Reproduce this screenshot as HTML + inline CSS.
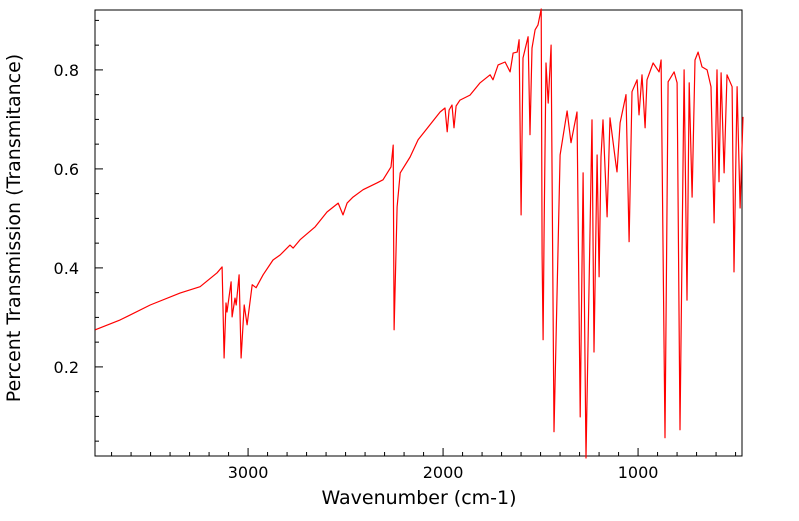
<!DOCTYPE html>
<html><head><meta charset="utf-8"><style>
body{margin:0;background:#fff;}
svg text{font-family:"DejaVu Sans","Liberation Sans",sans-serif;fill:#000;}
</style></head><body>
<svg id="chart" width="799" height="516">
<rect x="95" y="10" width="647" height="446" fill="#fff" stroke="#000" stroke-width="1"/>
<g id="ticks"></g>
<polyline id="spectrum" fill="none" stroke="#ff0000" stroke-width="1.2" stroke-linejoin="round"/>
<text x="419" y="504" font-size="19" text-anchor="middle">Wavenumber (cm-1)</text>
<text transform="translate(20,228) rotate(-90)" font-size="19" text-anchor="middle">Percent Transmission (Transmitance)</text>
</svg>
<script>
const wavenumbers=[3784,3656,3502,3349,3246,3159,3133,3123,3113,3108,3087,3082,3067,3061,3046,3036,3020,3005,2979,2959,2923,2872,2836,2785,2769,2733,2656,2595,2538,2513,2492,2462,2410,2338,2308,2267,2256,2251,2236,2220,2169,2128,2067,2015,1990,1979,1969,1954,1944,1933,1913,1862,1810,1759,1744,1718,1682,1656,1641,1620,1610,1600,1590,1564,1554,1544,1528,1513,1497,1492,1487,1482,1472,1461,1446,1431,1400,1364,1344,1328,1313,1297,1282,1267,1236,1226,1210,1200,1190,1180,1159,1144,1113,1108,1092,1062,1046,1031,1005,995,980,964,954,923,892,882,862,846,815,800,785,764,749,738,723,708,692,672,646,626,610,595,585,574,559,544,518,508,492,477,462];
const transmission=[0.275,0.295,0.325,0.349,0.362,0.390,0.402,0.218,0.329,0.311,0.372,0.301,0.339,0.325,0.386,0.218,0.325,0.285,0.366,0.360,0.386,0.416,0.426,0.446,0.440,0.457,0.483,0.513,0.531,0.507,0.531,0.543,0.558,0.572,0.578,0.604,0.648,0.275,0.523,0.592,0.624,0.659,0.689,0.715,0.723,0.675,0.719,0.729,0.683,0.727,0.739,0.749,0.774,0.790,0.780,0.810,0.816,0.796,0.834,0.836,0.861,0.507,0.824,0.867,0.669,0.844,0.881,0.891,0.923,0.426,0.255,0.477,0.814,0.733,0.850,0.069,0.628,0.717,0.653,0.685,0.715,0.099,0.592,0.016,0.699,0.230,0.628,0.382,0.624,0.699,0.503,0.703,0.608,0.594,0.693,0.750,0.453,0.756,0.780,0.709,0.790,0.683,0.780,0.814,0.796,0.820,0.057,0.776,0.796,0.774,0.073,0.800,0.335,0.774,0.543,0.820,0.836,0.806,0.800,0.766,0.491,0.800,0.574,0.794,0.592,0.790,0.766,0.392,0.766,0.521,0.705];
const xMajorTicks=[3000,2000,1000];
const yMajorTicks=[0.2,0.4,0.6,0.8];
const L=95,R=742,T=10,B=456,XMAX=3785,XMIN=467,YMIN=0.020,YMAX=0.921;
const xs=v=>L+(XMAX-v)/(XMAX-XMIN)*(R-L);
const ys=v=>B-(v-YMIN)/(YMAX-YMIN)*(B-T);
const NS='http://www.w3.org/2000/svg';
const line=document.getElementById('spectrum');
line.setAttribute('points',wavenumbers.map((w,i)=>xs(w).toFixed(1)+','+ys(transmission[i]).toFixed(1)).join(' '));
const g=document.getElementById('ticks');
function ln(x1,y1,x2,y2,name){const e=document.createElementNS(NS,'line');e.setAttribute('x1',x1);e.setAttribute('y1',y1);e.setAttribute('x2',x2);e.setAttribute('y2',y2);e.setAttribute('stroke','#000');


g.appendChild(e);}
function tx(x,y,s,anchor,name){const e=document.createElementNS(NS,'text');e.setAttribute('x',x);e.setAttribute('y',y);e.setAttribute('font-size','16');e.setAttribute('text-anchor',anchor);e.textContent=s;


g.appendChild(e);}
for(let w=500;w<=3700;w+=100){const x=xs(w);if(x<L||x>R)continue;const major=xMajorTicks.includes(w);ln(x,B,x,B-(major?8:4),major?'x-major-tick':'x-minor-tick');}
xMajorTicks.forEach(w=>tx(xs(w),B+22,String(w),'middle','x-tick-label'));
for(let k=1;k<=18;k++){const v=k*0.05;const y=ys(v);if(y<T||y>B)continue;const major=k%4===0;ln(L,y,L+(major?8:4),y,major?'y-major-tick':'y-minor-tick');}
yMajorTicks.forEach(v=>tx(L-16,ys(v)+6,v.toFixed(1),'end','y-tick-label'));
</script>
</body></html>
